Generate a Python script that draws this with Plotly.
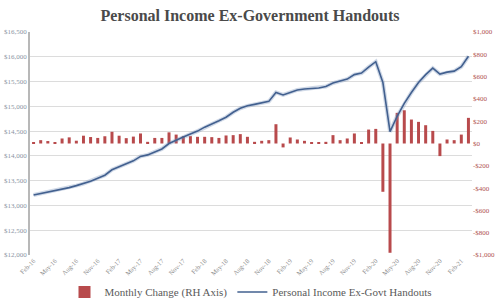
import plotly.graph_objects as go
import pandas as pd

months = [d.strftime("%b-%y") for d in pd.date_range("2016-02-01", "2021-03-01", freq="MS")]

monthly_change = [
    5, 30, 22, 12, 45, 55, 25, 70, 58, 50,
    65, 105, 70, 48, 62, 90, 15, 50, 50, 100,
    80, 66, 66, 60, 60, 57, 50, 72, 75, 84,
    60, 15, 24, 30, 173, -35, 54, 36, 24, 6,
    12, 15, 75, 30, 45, 90, 6, 125, 131, -433,
    -980, 275, 298, 215, 194, 164, 113, -113, 36, 30,
    80, 230,
]

income_ex_govt = [
    13210, 13240, 13270, 13290, 13320, 13360, 13400, 13440, 13490, 13550,
    13610, 13720, 13780, 13830, 13900, 13990, 14020, 14080, 14140, 14250,
    14320, 14380, 14440, 14500, 14580, 14640, 14710, 14780, 14880, 14960,
    15010, 15040, 15070, 15100, 15280, 15230, 15280, 15330, 15350, 15360,
    15370, 15400, 15470, 15510, 15550, 15640, 15670, 15790, 15900, 15480,
    14490, 14800, 15060, 15280, 15480, 15640, 15770, 15650, 15690, 15710,
    15800, 16010,
]

left_ticks = [12000, 12500, 13000, 13500, 14000, 14500, 15000, 15500, 16000, 16500]
left_labels = ["$12,000", "$12,500", "$13,000", "$13,500", "$14,000", "$14,500",
               "$15,000", "$15,500", "$16,000", "$16,500"]
right_ticks = [-1000, -800, -600, -400, -200, 0, 200, 400, 600, 800, 1000]
right_labels = ["-$1,000", "-$800", "-$600", "-$400", "-$200", "$0",
                "$200", "$400", "$600", "$800", "$1,000"]
x_ticks = months[::3]

SERIF = "Liberation Serif"
RED = "#b84a4c"
BLUE = "#42608f"

fig = go.Figure()
fig.add_trace(go.Bar(
    x=months, y=monthly_change, name="Monthly Change (RH Axis)",
    marker=dict(color=RED, line=dict(width=0)), yaxis="y",
))
fig.add_trace(go.Scatter(
    x=months, y=income_ex_govt, mode="lines", showlegend=False, hoverinfo="skip",
    line=dict(color="rgba(120,145,185,0.35)", width=4), yaxis="y2",
))
fig.add_trace(go.Scatter(
    x=months, y=income_ex_govt, mode="lines", name="Personal Income Ex-Govt Handouts",
    line=dict(color=BLUE, width=1.6), yaxis="y2",
))

fig.update_layout(
    width=500, height=304,
    margin=dict(l=30, r=28, t=32, b=49, autoexpand=False),
    paper_bgcolor="white", plot_bgcolor="white",
    bargap=0.58,
    title=dict(text="<b>Personal Income Ex-Government Handouts</b>", x=0.5, xanchor="center",
               y=0.95, yanchor="middle",
               font=dict(family=SERIF, size=16, color="#4a4a4a")),
    xaxis=dict(type="category", tickmode="array", tickvals=x_ticks, ticktext=x_ticks,
               tickangle=-45, tickfont=dict(family=SERIF, size=6.5, color="#8a8a8a"),
               showgrid=False, showline=False, zeroline=False, ticks="", automargin=False),
    yaxis=dict(side="right", range=[-1000, 1000], tickmode="array",
               tickvals=right_ticks, ticktext=right_labels,
               tickfont=dict(family=SERIF, size=7, color="#b05050"),
               showgrid=False, zeroline=False, showline=False, ticks="", automargin=False),
    yaxis2=dict(side="left", overlaying="y", range=[12000, 16500], tickmode="array",
                tickvals=left_ticks, ticktext=left_labels,
                tickfont=dict(family=SERIF, size=7, color="#8a94a3"),
                showgrid=True, gridcolor="#dcdcdc", gridwidth=1,
                zeroline=False, showline=True, linecolor="#b8b8b8", linewidth=1.5, ticks="",
                automargin=False),
    legend=dict(orientation="h", x=0.5, xanchor="center", y=-0.166, yanchor="middle",
                font=dict(family=SERIF, size=11, color="#5a5a5a"),
                bgcolor="rgba(0,0,0,0)", itemwidth=30),
    showlegend=True,
)

fig.write_html("out.html")
